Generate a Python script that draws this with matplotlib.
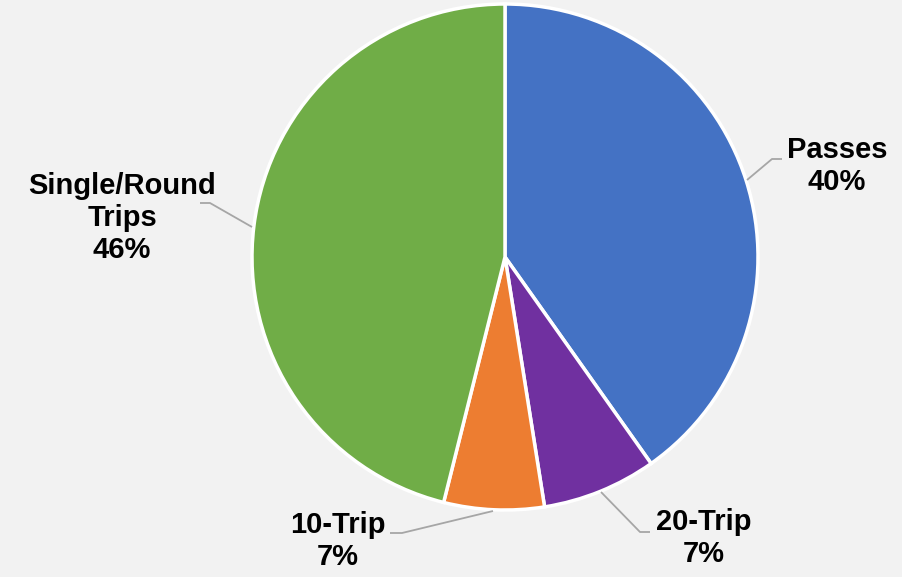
import matplotlib.pyplot as plt

# share of tickets by type
categories = ['Passes', '20-Trip', '10-Trip', 'Single/Round\nTrips']
shares = [40.2, 7.3, 6.4, 46.1]
pct_labels = ['40%', '7%', '7%', '46%']
colors = ['#4472C4', '#7030A0', '#ED7D31', '#70AD47']

W, H = 902, 577
cx, cy, r = 505, 257, 253   # pie centre / radius in pixels


def px(x, y):
    # pixel position -> data units (pie radius = 1)
    return (x - cx) / r, (cy - y) / r


fig = plt.figure(figsize=(W / 100, H / 100), dpi=100, facecolor='#F2F2F2')
ax = fig.add_axes([0, 0, 1, 1])
ax.set_facecolor('#F2F2F2')

ax.pie(shares, colors=colors, startangle=90, counterclock=False, radius=1,
       wedgeprops=dict(edgecolor='white', linewidth=2.5))

ax.set_xlim(-cx / r, (W - cx) / r)
ax.set_ylim(-(H - cy) / r, cy / r)
ax.set_aspect('equal')
ax.axis('off')

# label centres and leader lines (pixel coords)
label_pos = [(837, 166), (704, 538), (338, 541), (122, 218)]
leaders = [
    [(747, 180), (772, 159), (782, 159)],
    [(601, 492), (640, 532), (650, 532)],
    [(493, 511), (402, 533), (390, 533)],
    [(252, 227), (210, 203), (200, 203)],
]

for name, pct, pos, line in zip(categories, pct_labels, label_pos, leaders):
    tx, ty = px(*pos)
    ax.text(tx, ty, name + '\n' + pct, ha='center', va='center',
            fontsize=21, fontweight='bold', family='Liberation Sans',
            linespacing=1.18, color='black')
    xs = [px(*p)[0] for p in line]
    ys = [px(*p)[1] for p in line]
    ax.plot(xs, ys, color='#A6A6A6', linewidth=1.3, solid_capstyle='butt')

fig.savefig('out.png', dpi=100, facecolor='#F2F2F2')
